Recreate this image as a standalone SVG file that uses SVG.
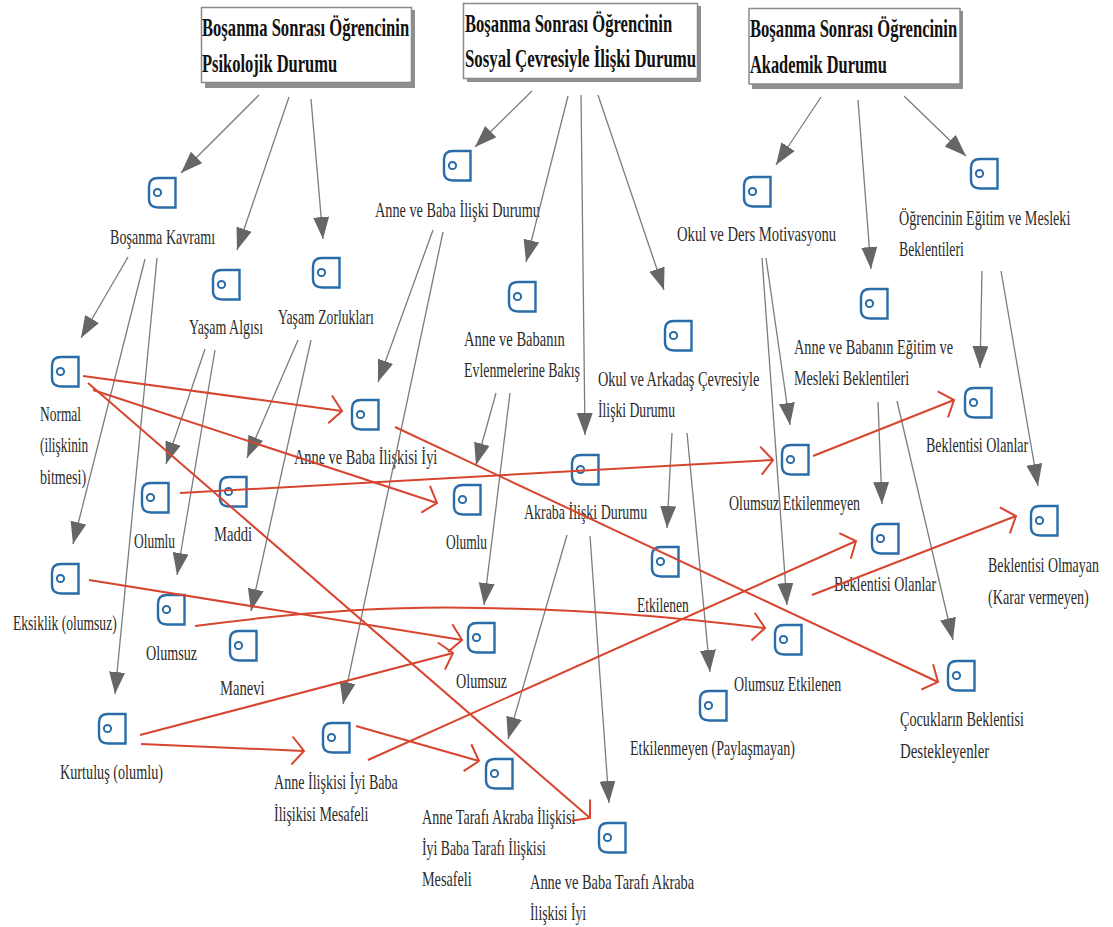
<svg xmlns="http://www.w3.org/2000/svg" width="1113" height="927" viewBox="0 0 1113 927">
<style>
text{font-family:"Liberation Serif","Times New Roman",serif;fill:#2b2b2b;font-size:22px}
text.h{font-weight:bold;font-size:25px;fill:#111}
.box{fill:#fff;stroke:#8a8a8a;stroke-width:1.5}
.shadow{fill:#8f8f8f}
.g line{stroke:#7c7c7c;stroke-width:1.3;marker-end:url(#ga)}
.r line,.r path{stroke:#d8452f;stroke-width:2;fill:none;marker-end:url(#ra)}
</style>
<defs>
<marker id="ga" markerUnits="userSpaceOnUse" markerWidth="24" markerHeight="18" refX="22" refY="8" orient="auto"><path d="M0,0L22,8L0,16Z" fill="#666"/></marker>
<marker id="ra" markerUnits="userSpaceOnUse" markerWidth="18" markerHeight="32" refX="14" refY="15" orient="auto"><path d="M2,1L14,15L2,29" fill="none" stroke="#d8452f" stroke-width="2"/></marker>
<g id="icon"><path d="M27.5,1V30.5H10Q1,30.5 1,22V9.5Q1,1 10,1Z" fill="#fff" stroke="#2a6ca8" stroke-width="2.4"/><circle cx="9.5" cy="15.5" r="3.6" fill="none" stroke="#2a6ca8" stroke-width="2"/></g>
</defs>
<rect width="1113" height="927" fill="#fff"/>
<g id="h1"><rect class="shadow" x="205" y="10" width="210" height="78"/><rect class="box" x="201.5" y="7.5" width="210" height="75"/><text class="h" transform="translate(202,36) scale(.8,1)" textLength="259" lengthAdjust="spacingAndGlyphs">Boşanma Sonrası Öğrencinin</text><text class="h" transform="translate(202,72) scale(.8,1)" textLength="169" lengthAdjust="spacingAndGlyphs">Psikolojik Durumu</text></g>
<g id="h2"><rect class="shadow" x="467" y="6" width="234" height="76"/><rect class="box" x="463.5" y="3.5" width="234" height="75"/><text class="h" transform="translate(465,32) scale(.8,1)" textLength="259" lengthAdjust="spacingAndGlyphs">Boşanma Sonrası Öğrencinin</text><text class="h" transform="translate(465,67) scale(.8,1)" textLength="289" lengthAdjust="spacingAndGlyphs">Sosyal Çevresiyle İlişki Durumu</text></g>
<g id="h3"><rect class="shadow" x="752" y="11" width="211" height="78"/><rect class="box" x="749" y="8.5" width="211" height="75.5"/><text class="h" transform="translate(750,37) scale(.8,1)" textLength="259" lengthAdjust="spacingAndGlyphs">Boşanma Sonrası Öğrencinin</text><text class="h" transform="translate(750,73) scale(.8,1)" textLength="171" lengthAdjust="spacingAndGlyphs">Akademik Durumu</text></g>
<g id="n1"><use href="#icon" x="148" y="177"/><text transform="translate(110,244) scale(.72,1)" textLength="146" lengthAdjust="spacingAndGlyphs">Boşanma Kavramı</text></g>
<g id="n2"><use href="#icon" x="212" y="269"/><text transform="translate(189,334) scale(.72,1)" textLength="103" lengthAdjust="spacingAndGlyphs">Yaşam Algısı</text></g>
<g id="n3"><use href="#icon" x="312" y="257"/><text transform="translate(278,324) scale(.72,1)" textLength="133" lengthAdjust="spacingAndGlyphs">Yaşam Zorlukları</text></g>
<g id="n4"><use href="#icon" x="51" y="356"/><text transform="translate(40,421) scale(.72,1)" textLength="57" lengthAdjust="spacingAndGlyphs">Normal</text><text transform="translate(40,452) scale(.72,1)" textLength="67" lengthAdjust="spacingAndGlyphs">(ilişkinin</text><text transform="translate(40,484) scale(.72,1)" textLength="64" lengthAdjust="spacingAndGlyphs">bitmesi)</text></g>
<g id="n5"><use href="#icon" x="141" y="482"/><text transform="translate(134,548) scale(.72,1)" textLength="57" lengthAdjust="spacingAndGlyphs">Olumlu</text></g>
<g id="n6"><use href="#icon" x="219" y="476"/><text transform="translate(214,541) scale(.72,1)" textLength="53" lengthAdjust="spacingAndGlyphs">Maddi</text></g>
<g id="n7"><use href="#icon" x="51" y="563"/><text transform="translate(13,630) scale(.72,1)" textLength="144" lengthAdjust="spacingAndGlyphs">Eksiklik (olumsuz)</text></g>
<g id="n8"><use href="#icon" x="157" y="594"/><text transform="translate(146,660) scale(.72,1)" textLength="71" lengthAdjust="spacingAndGlyphs">Olumsuz</text></g>
<g id="n9"><use href="#icon" x="229" y="630"/><text transform="translate(220,695) scale(.72,1)" textLength="62" lengthAdjust="spacingAndGlyphs">Manevi</text></g>
<g id="n10"><use href="#icon" x="98" y="713"/><text transform="translate(60,779) scale(.72,1)" textLength="143" lengthAdjust="spacingAndGlyphs">Kurtuluş (olumlu)</text></g>
<g id="n11"><use href="#icon" x="322" y="722"/><text transform="translate(274,789) scale(.72,1)" textLength="172" lengthAdjust="spacingAndGlyphs">Anne İlişkisi İyi Baba</text><text transform="translate(274,821) scale(.72,1)" textLength="131" lengthAdjust="spacingAndGlyphs">İlişikisi Mesafeli</text></g>
<g id="n12"><use href="#icon" x="443" y="150"/><text transform="translate(375,217) scale(.72,1)" textLength="229" lengthAdjust="spacingAndGlyphs">Anne ve Baba İlişki Durumu</text></g>
<g id="n13"><use href="#icon" x="351" y="399"/><text transform="translate(294,464) scale(.72,1)" textLength="199" lengthAdjust="spacingAndGlyphs">Anne ve Baba İlişkisi İyi</text></g>
<g id="n14"><use href="#icon" x="508" y="281"/><text transform="translate(464,346) scale(.72,1)" textLength="140" lengthAdjust="spacingAndGlyphs">Anne ve Babanın</text><text transform="translate(464,377) scale(.72,1)" textLength="161" lengthAdjust="spacingAndGlyphs">Evlenmelerine Bakış</text></g>
<g id="n15"><use href="#icon" x="453" y="484"/><text transform="translate(446,549) scale(.72,1)" textLength="57" lengthAdjust="spacingAndGlyphs">Olumlu</text></g>
<g id="n16"><use href="#icon" x="467" y="622"/><text transform="translate(456,688) scale(.72,1)" textLength="71" lengthAdjust="spacingAndGlyphs">Olumsuz</text></g>
<g id="n17"><use href="#icon" x="664" y="320"/><text transform="translate(598,386) scale(.72,1)" textLength="224" lengthAdjust="spacingAndGlyphs">Okul ve Arkadaş Çevresiyle</text><text transform="translate(598,417) scale(.72,1)" textLength="107" lengthAdjust="spacingAndGlyphs">İlişki Durumu</text></g>
<g id="n18"><use href="#icon" x="571" y="454"/><text transform="translate(524,519) scale(.72,1)" textLength="171" lengthAdjust="spacingAndGlyphs">Akraba İlişki Durumu</text></g>
<g id="n19"><use href="#icon" x="651" y="546"/><text transform="translate(637,612) scale(.72,1)" textLength="72" lengthAdjust="spacingAndGlyphs">Etkilenen</text></g>
<g id="n20"><use href="#icon" x="699" y="690"/><text transform="translate(630,755) scale(.72,1)" textLength="229" lengthAdjust="spacingAndGlyphs">Etkilenmeyen (Paylaşmayan)</text></g>
<g id="n21"><use href="#icon" x="485" y="758"/><text transform="translate(422,824) scale(.72,1)" textLength="213" lengthAdjust="spacingAndGlyphs">Anne Tarafı Akraba İlişkisi</text><text transform="translate(422,855) scale(.72,1)" textLength="172" lengthAdjust="spacingAndGlyphs">İyi Baba Tarafı İlişkisi</text><text transform="translate(422,886) scale(.72,1)" textLength="69" lengthAdjust="spacingAndGlyphs">Mesafeli</text></g>
<g id="n22"><use href="#icon" x="598" y="822"/><text transform="translate(530,889) scale(.72,1)" textLength="228" lengthAdjust="spacingAndGlyphs">Anne ve Baba Tarafı Akraba</text><text transform="translate(530,920) scale(.72,1)" textLength="78" lengthAdjust="spacingAndGlyphs">İlişkisi İyi</text></g>
<g id="n23"><use href="#icon" x="743" y="176"/><text transform="translate(677,241) scale(.72,1)" textLength="221" lengthAdjust="spacingAndGlyphs">Okul ve Ders Motivasyonu</text></g>
<g id="n24"><use href="#icon" x="970" y="158"/><text transform="translate(899,225) scale(.72,1)" textLength="238" lengthAdjust="spacingAndGlyphs">Öğrencinin Eğitim ve Mesleki</text><text transform="translate(899,256) scale(.72,1)" textLength="90" lengthAdjust="spacingAndGlyphs">Beklentileri</text></g>
<g id="n25"><use href="#icon" x="860" y="288"/><text transform="translate(794,354) scale(.72,1)" textLength="221" lengthAdjust="spacingAndGlyphs">Anne ve Babanın Eğitim ve</text><text transform="translate(794,385) scale(.72,1)" textLength="160" lengthAdjust="spacingAndGlyphs">Mesleki Beklentileri</text></g>
<g id="n26"><use href="#icon" x="964" y="387"/><text transform="translate(926,452) scale(.72,1)" textLength="142" lengthAdjust="spacingAndGlyphs">Beklentisi Olanlar</text></g>
<g id="n27"><use href="#icon" x="781" y="444"/><text transform="translate(729,510) scale(.72,1)" textLength="182" lengthAdjust="spacingAndGlyphs">Olumsuz Etkilenmeyen</text></g>
<g id="n28"><use href="#icon" x="871" y="523"/><text transform="translate(834,591) scale(.72,1)" textLength="142" lengthAdjust="spacingAndGlyphs">Beklentisi Olanlar</text></g>
<g id="n29"><use href="#icon" x="1030" y="505"/><text transform="translate(988,572) scale(.72,1)" textLength="154" lengthAdjust="spacingAndGlyphs">Beklentisi Olmayan</text><text transform="translate(988,604) scale(.72,1)" textLength="140" lengthAdjust="spacingAndGlyphs">(Karar vermeyen)</text></g>
<g id="n30"><use href="#icon" x="774" y="624"/><text transform="translate(734,691) scale(.72,1)" textLength="149" lengthAdjust="spacingAndGlyphs">Olumsuz Etkilenen</text></g>
<g id="n31"><use href="#icon" x="947" y="660"/><text transform="translate(900,726) scale(.72,1)" textLength="172" lengthAdjust="spacingAndGlyphs">Çocukların Beklentisi</text><text transform="translate(900,758) scale(.72,1)" textLength="124" lengthAdjust="spacingAndGlyphs">Destekleyenler</text></g>
<g id="connectors">
<g class="g">
<line x1="259" y1="95" x2="181" y2="173"/><line x1="289" y1="97" x2="237" y2="250"/><line x1="311" y1="99" x2="323" y2="239"/>
<line x1="532" y1="91" x2="475" y2="147"/><line x1="568" y1="96" x2="526" y2="262"/><line x1="581" y1="95" x2="585" y2="435"/><line x1="598" y1="95" x2="664" y2="290"/>
<line x1="821" y1="97" x2="776" y2="165"/><line x1="858" y1="100" x2="871" y2="269"/><line x1="904" y1="96" x2="966" y2="156"/>
<line x1="128" y1="257" x2="81" y2="338"/><line x1="145" y1="259" x2="73" y2="544"/><line x1="157" y1="258" x2="115" y2="694"/>
<line x1="205" y1="349" x2="166" y2="464"/><line x1="215" y1="350" x2="177" y2="575"/>
<line x1="298" y1="340" x2="247" y2="458"/><line x1="311" y1="340" x2="251" y2="611"/>
<line x1="433" y1="230" x2="378" y2="382"/><line x1="443" y1="232" x2="343" y2="704"/>
<line x1="496" y1="393" x2="476" y2="465"/><line x1="510" y1="393" x2="484" y2="605"/>
<line x1="672" y1="433" x2="667" y2="528"/><line x1="687" y1="433" x2="710" y2="672"/>
<line x1="567" y1="535" x2="508" y2="739"/><line x1="590" y1="536" x2="609" y2="803"/>
<line x1="766" y1="258" x2="790" y2="425"/><line x1="762" y1="258" x2="787" y2="605"/>
<line x1="982" y1="271" x2="980" y2="368"/><line x1="1001" y1="271" x2="1038" y2="486"/>
<line x1="878" y1="402" x2="882" y2="504"/><line x1="897" y1="401" x2="953" y2="640"/>
</g>
<g class="r">
<line x1="83" y1="376" x2="342" y2="411"/><line x1="93" y1="390" x2="437" y2="503"/><line x1="88" y1="383" x2="590" y2="818"/>
<line x1="395" y1="427" x2="938" y2="682"/><line x1="180" y1="493" x2="773" y2="460"/><line x1="813" y1="456" x2="954" y2="400"/>
<line x1="368" y1="760" x2="856" y2="541"/><line x1="812" y1="595" x2="1016" y2="516"/><line x1="89" y1="580" x2="462" y2="640"/>
<path d="M195,626C300,612 400,606 480,608C600,610 680,618 765,628"/>
<line x1="140" y1="735" x2="453" y2="653"/><line x1="141" y1="744" x2="304" y2="751"/><line x1="356" y1="726" x2="479" y2="761"/>
</g>
</g>
</svg>
